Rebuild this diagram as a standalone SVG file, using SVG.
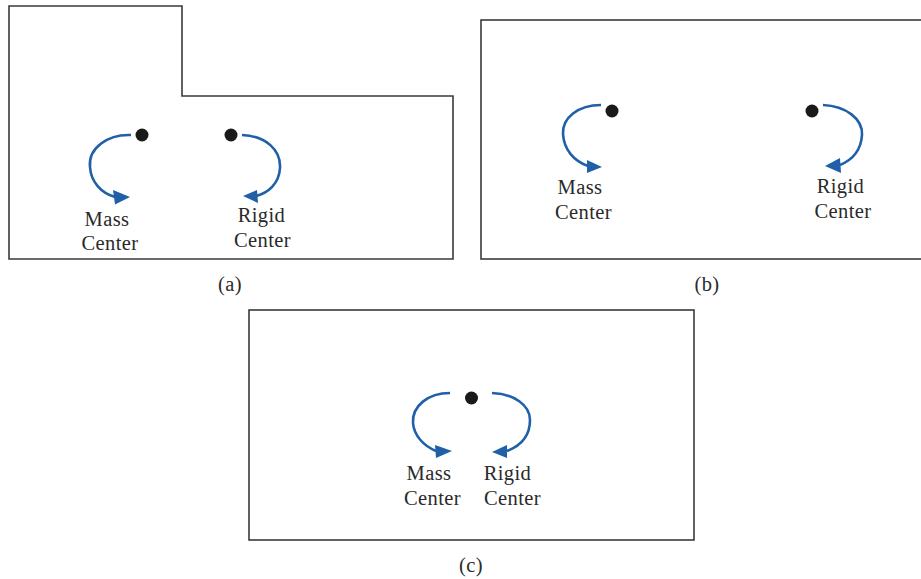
<svg xmlns="http://www.w3.org/2000/svg" width="921" height="579" viewBox="0 0 921 579">
  <style>
    .frame { fill: none; stroke: #3a3a3a; stroke-width: 1.6; }
    .dot { fill: #1a1a1a; }
    .arc { fill: none; stroke: #1f60a8; stroke-width: 2.6; stroke-linecap: butt; }
    .head { fill: #1f60a8; }
    .lbl { font-family: "Liberation Serif", "Times New Roman", serif; font-size: 20.5px; letter-spacing: 0.4px; fill: #2a2a2a; text-anchor: middle; }
  </style>

  <!-- (a) stepped plan outline -->
  <g id="panel-a">
    <path class="frame" d="M9,6 H182 V96 H453 V259 H9 Z"/>
    <g id="a-mass">
      <circle class="dot" cx="142" cy="135" r="6.5"/>
      <text class="lbl" x="107" y="226">Mass</text>
      <text class="lbl" x="110" y="250">Center</text>
    </g>
    <g id="a-rigid">
      <circle class="dot" cx="231" cy="135" r="6.5"/>
      <text class="lbl" x="261.5" y="222">Rigid</text>
      <text class="lbl" x="262.5" y="247">Center</text>
    </g>
    <text class="lbl" x="230" y="291">(a)</text>
  </g>

  <!-- (b) rectangular plan -->
  <g id="panel-b">
    <rect class="frame" x="481" y="20" width="445" height="239"/>
    <g id="b-mass">
      <circle class="dot" cx="612" cy="111" r="6.5"/>
      <text class="lbl" x="580" y="194">Mass</text>
      <text class="lbl" x="583.5" y="219">Center</text>
    </g>
    <g id="b-rigid">
      <circle class="dot" cx="812" cy="111" r="6.5"/>
      <text class="lbl" x="840.5" y="193">Rigid</text>
      <text class="lbl" x="843" y="218">Center</text>
    </g>
    <text class="lbl" x="707" y="291">(b)</text>
  </g>

  <!-- (c) coincident centres -->
  <g id="panel-c">
    <rect class="frame" x="249" y="310" width="445" height="230"/>
    <g id="c-center">
      <circle class="dot" cx="471.5" cy="398" r="6.5"/>
      <text class="lbl" x="429" y="480">Mass</text>
      <text class="lbl" x="432.5" y="505">Center</text>
      <text class="lbl" x="507.5" y="480">Rigid</text>
      <text class="lbl" x="512.5" y="505">Center</text>
    </g>
    <text class="lbl" x="471" y="572">(c)</text>
  </g>

  <!-- curved arrows -->
  <g id="connectors">
    <path class="arc" d="M131,135 C108,134 88,148 90,167 C91,182 101,193 115,197"/>
    <polygon class="head" points="130,197 113,190 115,204.5"/>
    <path class="arc" d="M242,135 C266,136 281,150 280,168 C279,184 268,193 256,196"/>
    <polygon class="head" points="243,196 257,190 258,203"/>

    <path class="arc" d="M601,105 C578,105 562,118 563,134 C564,150 574,161 588,166"/>
    <polygon class="head" points="602,167 587,160 587,173"/>
    <path class="arc" d="M823,105 C846,106 863,119 862,135 C861,150 852,160 840,165"/>
    <polygon class="head" points="825,166 840,158 841,173"/>

    <path class="arc" d="M450,393 C428,393 412,406 413,423 C414,436 424,446 436,451"/>
    <polygon class="head" points="452,451 435,445 436,458"/>
    <path class="arc" d="M492,393 C514,394 530,405 530,420 C530,436 520,446 507,451"/>
    <polygon class="head" points="492,452 507,445 507,458"/>
  </g>
</svg>
